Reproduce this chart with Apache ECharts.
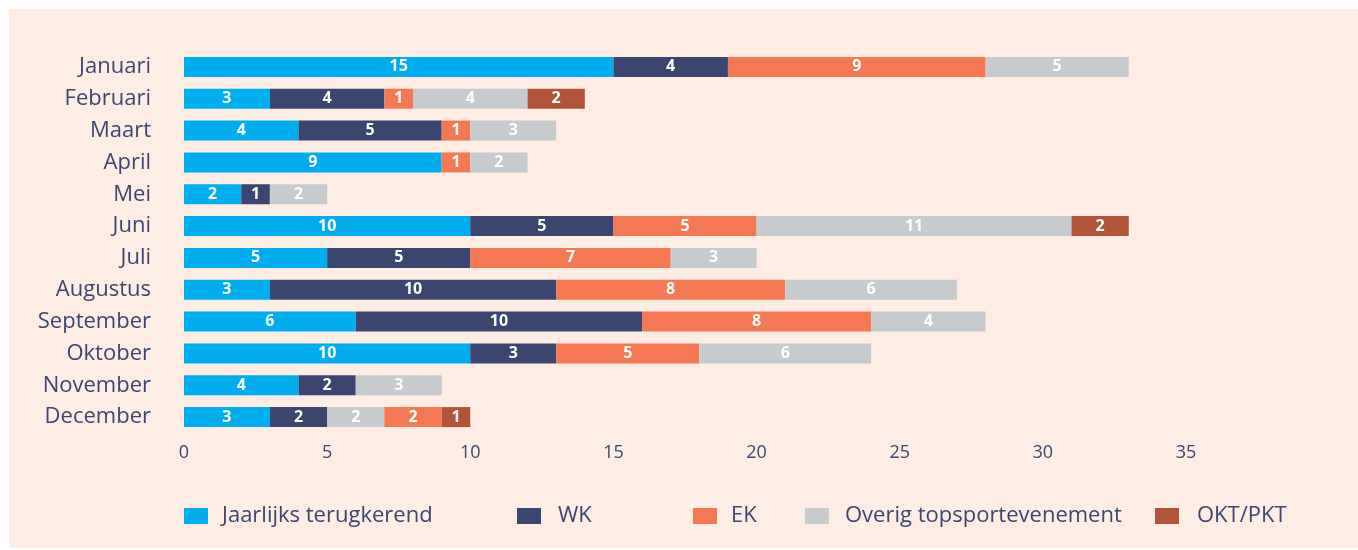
<!DOCTYPE html>
<html>
<head>
<meta charset="utf-8">
<script src="https://cdn.jsdelivr.net/npm/echarts@6/dist/echarts.min.js"></script>
<style>
  html, body { margin: 0; padding: 0; background: #ffffff; }
  #chart { width: 1358px; height: 550px; }
</style>
</head>
<body>
<div id="chart"></div>
<script>
// months shown top to bottom
const months = ['Januari', 'Februari', 'Maart', 'April', 'Mei', 'Juni', 'Juli',
  'Augustus', 'September', 'Oktober', 'November', 'December'];

// values per category (null = no segment)
const jaarlijks = [15, 3, 4, 9, 2, 10, 5, 3, 6, 10, 4, 3];
const wk = [4, 4, 5, null, 1, 5, 5, 10, 10, 3, 2, 2];
const ek = [9, 1, 1, 1, null, 5, 7, 8, 8, 5, null, null];
const overig = [5, 4, 3, 2, 2, 11, 3, 6, 4, 6, 3, 2];
const okt = [null, 2, null, null, null, 2, null, null, null, null, null, 1];
// December has its EK segment after the grey one
const ekLate = [null, null, null, null, null, null, null, null, null, null, null, 2];

const TEXT = '#3b4770';
const FONT = 'Open Sans';

const chart = echarts.init(document.getElementById('chart'));

function seg(name, data, color) {
  return {
    name: name,
    type: 'bar',
    stack: 'total',
    barWidth: 20,
    data: data,
    itemStyle: { color: color },
    label: {
      show: true,
      position: 'inside',
      color: '#ffffff',
      fontFamily: FONT,
      fontWeight: 'bold',
      fontSize: 16,
      formatter: (p) => (p.value == null ? '' : p.value)
    }
  };
}

function legendAt(left, name, pad) {
  return {
    data: [name],
    left: left,
    top: 505,
    padding: 0,
    itemWidth: 24,
    itemHeight: 16,
    icon: 'rect',
    selectedMode: false,
    textStyle: {
      color: TEXT,
      fontFamily: FONT,
      fontSize: 22,
      padding: [0, 0, 0, pad]
    }
  };
}

chart.setOption({
  animation: false,
  graphic: [{
    type: 'rect',
    left: 9,
    top: 9,
    shape: { width: 1349, height: 539 },
    style: { fill: '#fdede5' },
    z: -10
  }],
  legend: [
    legendAt(184, 'Jaarlijks terugkerend', 9),
    legendAt(517, 'WK', 12),
    legendAt(693, 'EK', 9),
    legendAt(805, 'Overig topsportevenement', 11),
    legendAt(1155, 'OKT/PKT', 13)
  ],
  grid: {
    left: 184,
    right: 172,
    top: 51,
    bottom: 117
  },
  xAxis: {
    type: 'value',
    min: 0,
    max: 35,
    interval: 5,
    axisLine: { show: false },
    axisTick: { show: false },
    splitLine: { show: false },
    axisLabel: {
      color: TEXT,
      fontFamily: FONT,
      fontSize: 18,
      margin: 11
    }
  },
  yAxis: {
    type: 'category',
    inverse: true,
    data: months,
    axisLine: { show: false },
    axisTick: { show: false },
    axisLabel: {
      color: TEXT,
      fontFamily: FONT,
      fontSize: 22,
      margin: 33
    }
  },
  series: [
    seg('Jaarlijks terugkerend', jaarlijks, '#00aeef'),
    seg('WK', wk, '#3a4670'),
    seg('EK', ek, '#f47852'),
    seg('Overig topsportevenement', overig, '#c7cbce'),
    seg('EK', ekLate, '#f47852'),
    seg('OKT/PKT', okt, '#b05337')
  ]
});
</script>
</body>
</html>
